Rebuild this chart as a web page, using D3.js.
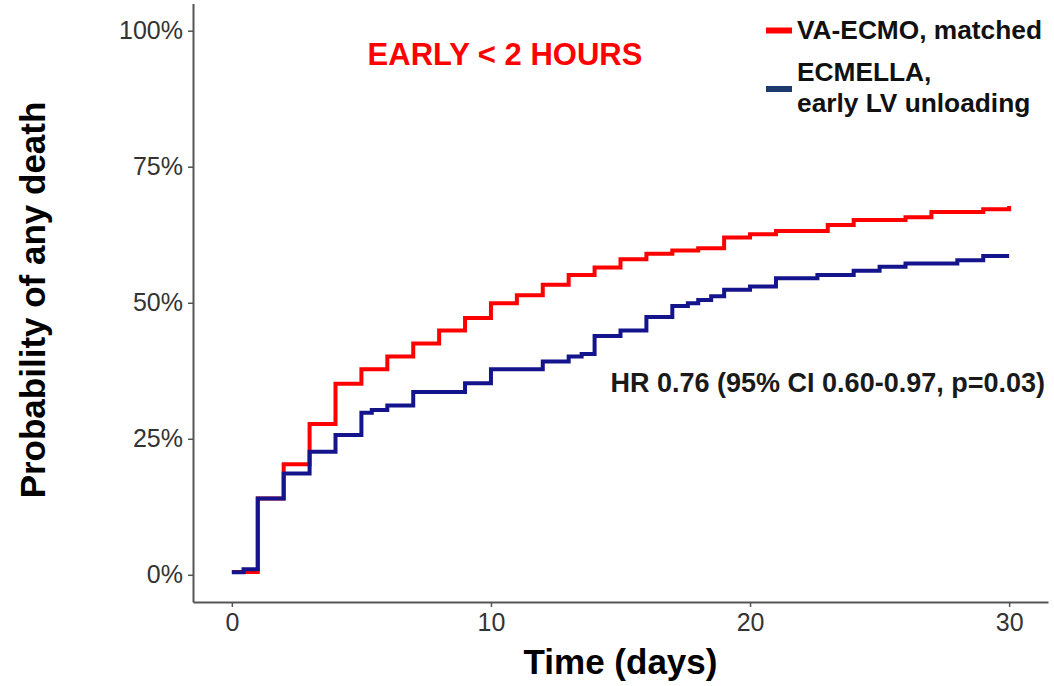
<!DOCTYPE html>
<html>
<head>
<meta charset="utf-8">
<script src="https://cdn.jsdelivr.net/npm/d3@7"></script>
<style>
    body { margin: 0; background: #fff; }
    svg { display: block; font-family: "Liberation Sans", Arial, sans-serif; }
</style>
</head>
<body>
<div id="chart"></div>
<script>
// step points: [day, cumulative % dead]
const vaEcmo = [
    [0, 0.5], [1, 14.0], [2, 20.3], [3, 27.7], [4, 35.1], [5, 37.8], [6, 40.1],
    [7, 42.5], [8, 44.9], [9, 47.2], [10, 49.9], [11, 51.4], [12, 53.3], [13, 55.1],
    [14, 56.5], [15, 58.0], [16, 59.0], [17, 59.6], [18, 60.0], [19, 62.0], [20, 62.6],
    [21, 63.2], [23, 64.3], [24, 65.2], [26, 65.7], [27, 66.7], [29, 67.2], [30, 67.8]
];
const ecmella = [
    [0, 0.45], [0.45, 1.0], [1, 14.0], [2, 18.6], [3, 22.6], [4, 25.7], [5, 29.8],
    [5.4, 30.3], [6, 31.1], [7, 33.6], [9, 35.2], [10, 37.8], [12, 39.2], [13, 40.1],
    [13.5, 40.6], [14, 43.9], [15, 44.9], [16, 47.4], [17, 49.4], [17.6, 49.9],
    [18, 50.5], [18.5, 51.2], [19, 52.4], [20, 53.0], [21, 54.5], [22.6, 55.1],
    [24, 55.9], [25, 56.6], [26, 57.2], [28, 57.8], [29, 58.6], [30, 58.6]
];
const xTicks = [0, 10, 20, 30];
const yTicks = [0, 25, 50, 75, 100];
const seriesNames = ["VA-ECMO, matched", ["ECMELLA,", "early LV unloading"]];
const seriesColors = ["#ff0000", "#14148c"];
const legendColors = ["#ff0000", "#1d3a6c"];

const width = 1054, height = 686;
const marginLeft = 193, plotRight = 1048, plotTop = 3.5, plotBottom = 602;

const x = d3.scaleLinear().domain([-1.5, 31.5]).range([marginLeft, plotRight]);
const y = d3.scaleLinear().domain([-5, 105]).range([plotBottom, plotTop]);

const svg = d3.select("#chart").append("svg")
    .attr("width", width)
    .attr("height", height)
    .attr("viewBox", [0, 0, width, height]);

// axes
const xAxis = d3.axisBottom(x).tickValues(xTicks).tickSize(5).tickSizeOuter(0);
const yAxis = d3.axisLeft(y).tickValues(yTicks).tickSize(5).tickSizeOuter(0).tickFormat(d => d + "%");

svg.append("g")
    .attr("transform", `translate(0,${plotBottom})`)
    .call(xAxis)
    .call(g => g.select(".domain").attr("stroke", "#555").attr("stroke-width", 2))
    .call(g => g.selectAll(".tick line").attr("stroke", "#555").attr("stroke-width", 1.5))
    .call(g => g.selectAll(".tick text")
        .attr("dy", "0.85em")
        .attr("font-size", 25)
        .attr("fill", "#333")
        .attr("font-family", "Liberation Sans, Arial, sans-serif"));

svg.append("g")
    .attr("transform", `translate(${marginLeft},0)`)
    .call(yAxis)
    .call(g => g.select(".domain").attr("stroke", "#555").attr("stroke-width", 2))
    .call(g => g.selectAll(".tick line").attr("stroke", "#555").attr("stroke-width", 1.5))
    .call(g => g.selectAll(".tick text")
        .attr("x", -10)
        .attr("font-size", 25)
        .attr("fill", "#333")
        .attr("font-family", "Liberation Sans, Arial, sans-serif"));

// axis titles
svg.append("text")
    .attr("x", (x(0) + x(30)) / 2)
    .attr("y", 674)
    .attr("text-anchor", "middle")
    .attr("font-size", 35)
    .attr("font-weight", "bold")
    .text("Time (days)");

svg.append("text")
    .attr("transform", "translate(45,300) rotate(-90)")
    .attr("text-anchor", "middle")
    .attr("font-size", 35)
    .attr("font-weight", "bold")
    .text("Probability of any death");

// curves
const line = d3.line()
    .curve(d3.curveStepAfter)
    .x(d => x(d[0]))
    .y(d => y(d[1]));

[vaEcmo, ecmella].forEach((data, i) => {
    svg.append("path")
        .attr("fill", "none")
        .attr("stroke", seriesColors[i])
        .attr("stroke-width", 4)
        .attr("stroke-linejoin", "miter")
        .attr("d", line(data));
});

// annotations
svg.append("text")
    .attr("x", 505)
    .attr("y", 65)
    .attr("text-anchor", "middle")
    .attr("font-size", 31)
    .attr("font-weight", "bold")
    .attr("fill", "#ff0000")
    .text("EARLY < 2 HOURS");

svg.append("text")
    .attr("x", 1045)
    .attr("y", 392)
    .attr("text-anchor", "end")
    .attr("font-size", 27)
    .attr("font-weight", "bold")
    .attr("fill", "#1a1a1a")
    .text("HR 0.76 (95% CI 0.60-0.97, p=0.03)");

// legend
const legend = svg.append("g");
const swatchY = [30.5, 89];
const textY = [[38.5], [81, 111.5]];
seriesNames.forEach((name, i) => {
    legend.append("line")
        .attr("x1", 766).attr("x2", 792)
        .attr("y1", swatchY[i]).attr("y2", swatchY[i])
        .attr("stroke", legendColors[i])
        .attr("stroke-width", 6);
    const lines = Array.isArray(name) ? name : [name];
    lines.forEach((t, j) => {
        legend.append("text")
            .attr("x", 797)
            .attr("y", textY[i][j])
            .attr("font-size", 26.3)
            .attr("font-weight", "bold")
            .attr("fill", "#111")
            .text(t);
    });
});
</script>
</body>
</html>
